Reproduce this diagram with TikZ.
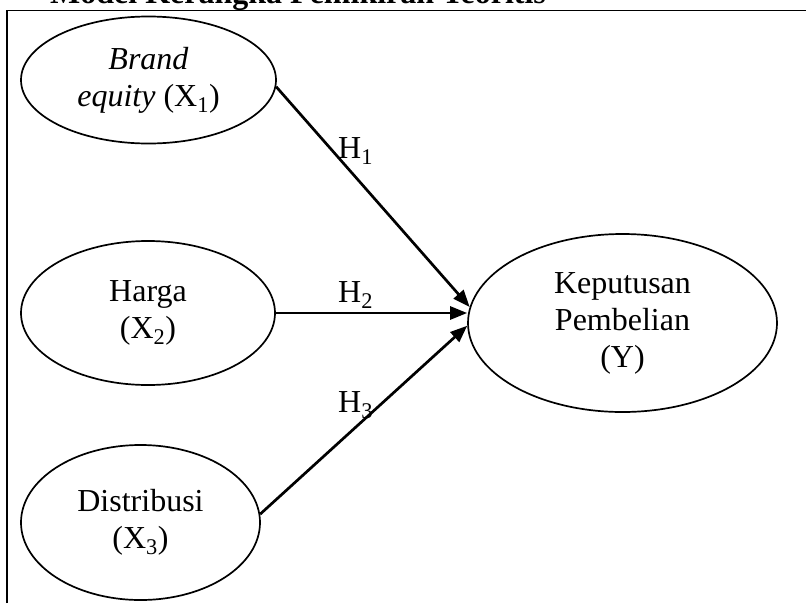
\documentclass[tikz,border=0pt]{standalone}
\usepackage{fontspec}
\setmainfont{Liberation Serif}
\usetikzlibrary{shapes.geometric,arrows.meta}

\tikzset{
  var/.style={draw, ellipse, line width=1.7pt, inner sep=0pt, align=center},
  hyp/.style={line width=2.7pt, -{Triangle[length=17pt,width=13pt]}},
  lbl/.style={anchor=base west, inner sep=0pt}
}

\begin{document}
\begin{tikzpicture}[x=1pt,y=-1pt,font=\fontsize{32}{37}\selectfont]
                \useasboundingbox (0,0) rectangle (806,603);
                \clip (0,0) rectangle (806,603);
                % title and frame
                \node[anchor=base west, inner sep=0pt, font=\fontsize{32}{37}\selectfont\bfseries] (title) at (50,3) {Model Kerangka Pemikiran Teoritis};
                \draw[line width=1.2pt] (7,603) -- (7,10.5) -- (806,10.5);
                % variables
                \node[var, minimum width=255pt, minimum height=127pt] (brand) at (148.5,80) {\textit{Brand}\\\textit{equity} (X\textsubscript{1})};
                \node[var, minimum width=254pt, minimum height=144pt] (harga) at (148,313) {Harga\\(X\textsubscript{2})};
                \node[var, minimum width=239pt, minimum height=155pt] (dist) at (140.5,522.5) {Distribusi\\(X\textsubscript{3})};
                \node[var, minimum width=309pt, minimum height=178pt] (kep) at (622.5,323) {Keputusan\\Pembelian\\(Y)};
                % hypotheses
                \draw[hyp] (brand.-3) -- (kep.174);
                \draw[hyp] (harga.east) -- (harga.east -| kep.west);
                \draw[hyp] (dist.4) -- (kep.181.5);
                \node[lbl] (h1) at (338,158) {H\textsubscript{1}};
                \node[lbl] (h2) at (338,302) {H\textsubscript{2}};
                \node[lbl] (h3) at (338,412) {H\textsubscript{3}};
            \end{tikzpicture}
\end{document}
